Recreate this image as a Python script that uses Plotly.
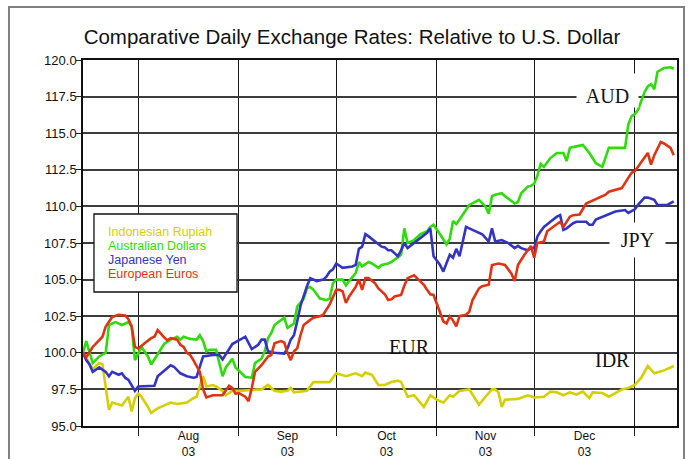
import plotly.graph_objects as go

# ---------------- data ----------------
idr_dates = ["2003-07-15","2003-07-18","2003-07-20","2003-07-21","2003-07-23","2003-07-24","2003-07-27","2003-07-29",
             "2003-07-30","2003-07-31","2003-08-01","2003-08-02","2003-08-04","2003-08-05","2003-08-07","2003-08-08",
             "2003-08-11","2003-08-13","2003-08-16","2003-08-18","2003-08-19","2003-08-20","2003-08-21","2003-08-22",
             "2003-08-24","2003-08-25","2003-08-27","2003-08-28","2003-08-30","2003-09-01","2003-09-05","2003-09-08",
             "2003-09-10","2003-09-12","2003-09-14","2003-09-16","2003-09-17","2003-09-18","2003-09-22","2003-09-24",
             "2003-09-26","2003-09-29","2003-10-01","2003-10-04","2003-10-07","2003-10-09","2003-10-10","2003-10-12",
             "2003-10-14","2003-10-16","2003-10-18","2003-10-20","2003-10-21","2003-10-23","2003-10-25","2003-10-28",
             "2003-10-30","2003-11-01","2003-11-03","2003-11-05","2003-11-06","2003-11-08","2003-11-11","2003-11-14",
             "2003-11-16","2003-11-18","2003-11-19","2003-11-20","2003-11-21","2003-11-22","2003-11-26","2003-11-29",
             "2003-12-01","2003-12-04","2003-12-06","2003-12-08","2003-12-10","2003-12-12","2003-12-14","2003-12-16",
             "2003-12-18","2003-12-19","2003-12-22","2003-12-24","2003-12-26","2003-12-28","2003-12-30","2004-01-01",
             "2004-01-03","2004-01-05","2004-01-07","2004-01-10","2004-01-13"]
idr_values = [100.0, 98.9, 99.3, 99.2, 96.1, 96.6, 96.4, 97.0,
              96.0, 96.9, 97.2, 97.0, 96.3, 95.9, 96.2, 96.3,
              96.6, 96.5, 96.6, 96.9, 97.0, 97.7, 98.4, 97.7,
              97.8, 97.7, 97.4, 97.1, 97.4, 97.4, 97.45, 97.5,
              97.8, 97.4, 97.35, 97.4, 97.6, 97.3, 97.4, 98.0,
              98.0, 98.0, 98.6, 98.4, 98.6, 98.4, 98.65, 98.5,
              97.8, 97.8, 98.0, 98.1, 98.0, 97.0, 97.1, 96.3,
              97.1, 96.8, 96.6, 97.1, 97.0, 97.4, 97.5, 96.45,
              97.0, 97.5, 97.5, 97.3, 96.3, 96.8, 96.85, 97.1,
              96.95, 97.0, 97.35, 97.3, 97.1, 97.3, 97.15, 97.35,
              96.9, 97.3, 97.25, 97.0, 97.25, 97.5, 97.6, 97.8,
              98.3, 99.1, 98.6, 98.8, 99.1]

aud_dates = ["2003-07-15","2003-07-16","2003-07-18","2003-07-20","2003-07-22","2003-07-23","2003-07-25","2003-07-27",
             "2003-07-29","2003-07-30","2003-07-31","2003-08-01","2003-08-02","2003-08-04","2003-08-05","2003-08-07",
             "2003-08-09","2003-08-11","2003-08-13","2003-08-14","2003-08-15","2003-08-17","2003-08-19","2003-08-20",
             "2003-08-21","2003-08-22","2003-08-23","2003-08-25","2003-08-26","2003-08-27","2003-08-28","2003-08-30",
             "2003-08-31","2003-09-01","2003-09-03","2003-09-05","2003-09-06","2003-09-08","2003-09-09","2003-09-10",
             "2003-09-11","2003-09-12","2003-09-14","2003-09-15","2003-09-16","2003-09-18","2003-09-19","2003-09-21",
             "2003-09-22","2003-09-23","2003-09-24","2003-09-26","2003-09-28","2003-09-29","2003-09-30","2003-10-01",
             "2003-10-03","2003-10-04","2003-10-05","2003-10-07","2003-10-08","2003-10-09","2003-10-11","2003-10-12",
             "2003-10-14","2003-10-15","2003-10-17","2003-10-18","2003-10-21","2003-10-22","2003-10-23","2003-10-25",
             "2003-10-27","2003-10-29","2003-10-30","2003-10-31","2003-11-02","2003-11-04","2003-11-05","2003-11-06",
             "2003-11-07","2003-11-08","2003-11-11","2003-11-12","2003-11-14","2003-11-16","2003-11-17","2003-11-18",
             "2003-11-19","2003-11-21","2003-11-22","2003-11-25","2003-11-26","2003-11-27","2003-11-29","2003-11-30",
             "2003-12-01","2003-12-02","2003-12-03","2003-12-04","2003-12-06","2003-12-08","2003-12-10","2003-12-11",
             "2003-12-12","2003-12-14","2003-12-16","2003-12-18","2003-12-20","2003-12-22","2003-12-24","2003-12-26",
             "2003-12-29","2003-12-30","2003-12-31","2004-01-01","2004-01-02","2004-01-03","2004-01-04","2004-01-05",
             "2004-01-06","2004-01-07","2004-01-08","2004-01-10","2004-01-12","2004-01-13"]
aud_values = [100.0, 100.8, 99.3, 99.75, 100.0, 101.9, 102.1, 101.9,
              102.1, 101.8, 99.5, 100.0, 100.4, 99.75, 99.2, 99.9,
              100.6, 100.9, 101.1, 100.9, 101.1, 100.95, 100.9, 101.2,
              100.8, 100.1, 100.2, 100.2, 99.3, 98.4, 99.0, 99.6,
              99.0, 98.8, 98.35, 98.3, 99.3, 99.6, 100.1, 101.0,
              101.35, 101.9, 102.2, 102.4, 101.7, 102.0, 103.15, 103.7,
              104.4, 104.5, 104.3, 103.7, 103.6, 103.7, 104.75, 105.0,
              105.0, 104.6, 104.9, 105.45, 106.2, 105.9, 106.2, 106.1,
              105.8, 106.0, 106.1, 106.2, 106.7, 108.5, 107.5, 107.7,
              108.1, 108.3, 108.6, 108.75, 108.1, 107.4, 107.8, 109.0,
              108.8, 109.1, 110.1, 110.2, 110.45, 110.0, 109.5, 110.7,
              110.8, 110.9, 110.7, 110.2, 110.3, 110.9, 111.35, 111.4,
              111.55, 112.1, 112.9, 112.7, 113.3, 113.65, 113.65, 113.1,
              114.0, 114.1, 114.2, 113.65, 112.95, 112.7, 114.0, 114.0,
              114.0, 115.6, 116.15, 116.3, 116.6, 117.2, 117.8, 118.2,
              118.35, 118.0, 119.2, 119.45, 119.5, 119.4]

jpy_dates = ["2003-07-15","2003-07-16","2003-07-17","2003-07-18","2003-07-19","2003-07-20","2003-07-22","2003-07-23",
             "2003-07-24","2003-07-26","2003-07-27","2003-07-28","2003-07-29","2003-07-30","2003-07-31","2003-08-01",
             "2003-08-04","2003-08-06","2003-08-07","2003-08-08","2003-08-11","2003-08-12","2003-08-13","2003-08-14",
             "2003-08-16","2003-08-18","2003-08-19","2003-08-20","2003-08-21","2003-08-24","2003-08-26","2003-08-27",
             "2003-08-29","2003-08-30","2003-09-01","2003-09-03","2003-09-05","2003-09-06","2003-09-07","2003-09-08",
             "2003-09-09","2003-09-10","2003-09-12","2003-09-15","2003-09-16","2003-09-17","2003-09-18","2003-09-19",
             "2003-09-20","2003-09-22","2003-09-23","2003-09-25","2003-09-27","2003-09-28","2003-09-29","2003-09-30",
             "2003-10-01","2003-10-03","2003-10-06","2003-10-07","2003-10-08","2003-10-09","2003-10-10","2003-10-11",
             "2003-10-13","2003-10-14","2003-10-15","2003-10-16","2003-10-17","2003-10-18","2003-10-20","2003-10-21",
             "2003-10-22","2003-10-23","2003-10-25","2003-10-27","2003-10-29","2003-10-30","2003-10-31","2003-11-01",
             "2003-11-02","2003-11-03","2003-11-05","2003-11-06","2003-11-07","2003-11-08","2003-11-09","2003-11-10",
             "2003-11-11","2003-11-13","2003-11-15","2003-11-17","2003-11-18","2003-11-19","2003-11-21","2003-11-23",
             "2003-11-25","2003-11-26","2003-11-27","2003-11-29","2003-11-30","2003-12-01","2003-12-02","2003-12-03",
             "2003-12-04","2003-12-06","2003-12-08","2003-12-09","2003-12-10","2003-12-11","2003-12-13","2003-12-14",
             "2003-12-17","2003-12-18","2003-12-19","2003-12-20","2003-12-23","2003-12-26","2003-12-29","2003-12-30",
             "2004-01-01","2004-01-02","2004-01-04","2004-01-05","2004-01-07","2004-01-08","2004-01-11","2004-01-13"]
jpy_values = [100.0, 99.5, 99.2, 98.7, 98.85, 99.0, 98.7, 98.4,
              98.7, 98.5, 98.6, 98.3, 98.15, 97.8, 97.4, 97.7,
              97.75, 97.75, 98.4, 98.6, 99.15, 99.05, 98.8, 98.6,
              98.4, 98.3, 98.35, 99.0, 99.75, 99.85, 99.85, 99.55,
              100.2, 100.6, 100.85, 101.1, 100.25, 100.4, 100.55, 100.9,
              100.9, 100.1, 100.0, 99.95, 100.3, 100.9, 101.2, 102.15,
              103.2, 104.55, 105.1, 104.9, 105.0, 105.2, 105.55, 105.7,
              106.1, 105.8, 105.9, 106.0, 107.1, 107.25, 108.1, 107.95,
              107.6, 107.4, 107.25, 107.2, 107.0, 107.0, 106.6, 107.0,
              107.5, 107.15, 107.5, 107.85, 108.2, 108.5, 106.6, 106.3,
              106.0, 105.55, 106.7, 106.5, 107.1, 106.6, 107.6, 108.6,
              108.5, 108.3, 108.1, 107.6, 108.5, 107.6, 107.7, 107.5,
              107.15, 107.3, 107.15, 107.0, 107.15, 107.15, 107.95, 108.3,
              108.6, 108.95, 109.3, 109.4, 108.4, 108.5, 108.85, 108.95,
              108.95, 108.75, 108.75, 109.1, 109.4, 109.65, 109.75, 109.55,
              109.8, 110.1, 110.6, 110.6, 110.45, 110.1, 110.1, 110.35]

eur_dates = ["2003-07-15","2003-07-16","2003-07-18","2003-07-21","2003-07-22","2003-07-23","2003-07-24","2003-07-26",
             "2003-07-28","2003-07-29","2003-07-30","2003-07-31","2003-08-01","2003-08-03","2003-08-05","2003-08-06",
             "2003-08-07","2003-08-09","2003-08-10","2003-08-11","2003-08-13","2003-08-14","2003-08-15","2003-08-16",
             "2003-08-17","2003-08-18","2003-08-19","2003-08-20","2003-08-21","2003-08-22","2003-08-24","2003-08-26",
             "2003-08-27","2003-08-29","2003-08-30","2003-08-31","2003-09-01","2003-09-03","2003-09-04","2003-09-05",
             "2003-09-06","2003-09-08","2003-09-10","2003-09-11","2003-09-12","2003-09-14","2003-09-15","2003-09-16",
             "2003-09-17","2003-09-18","2003-09-19","2003-09-20","2003-09-21","2003-09-23","2003-09-24","2003-09-26",
             "2003-09-27","2003-09-29","2003-09-30","2003-10-01","2003-10-02","2003-10-03","2003-10-04","2003-10-05",
             "2003-10-07","2003-10-08","2003-10-09","2003-10-10","2003-10-11","2003-10-13","2003-10-14","2003-10-16",
             "2003-10-17","2003-10-18","2003-10-19","2003-10-21","2003-10-22","2003-10-23","2003-10-25","2003-10-26",
             "2003-10-28","2003-10-29","2003-10-30","2003-10-31","2003-11-01","2003-11-02","2003-11-03","2003-11-04",
             "2003-11-05","2003-11-06","2003-11-07","2003-11-08","2003-11-10","2003-11-11","2003-11-12","2003-11-14",
             "2003-11-15","2003-11-17","2003-11-18","2003-11-20","2003-11-22","2003-11-24","2003-11-25","2003-11-26",
             "2003-11-28","2003-11-30","2003-12-01","2003-12-02","2003-12-04","2003-12-05","2003-12-07","2003-12-09",
             "2003-12-10","2003-12-12","2003-12-13","2003-12-15","2003-12-17","2003-12-19","2003-12-21","2003-12-23",
             "2003-12-24","2003-12-26","2003-12-28","2003-12-30","2003-12-31","2004-01-01","2004-01-03","2004-01-05",
             "2004-01-06","2004-01-07","2004-01-09","2004-01-10","2004-01-12","2004-01-13"]
eur_values = [100.0, 99.7, 100.4, 101.1, 101.8, 102.15, 102.45, 102.6,
              102.55, 102.3, 101.8, 100.4, 100.3, 100.65, 101.0, 101.1,
              101.55, 101.05, 100.85, 101.0, 100.9, 100.55, 100.4, 100.0,
              99.85, 99.5, 99.05, 98.7, 97.5, 96.95, 97.1, 97.1,
              97.1, 97.75, 97.6, 97.2, 97.25, 97.0, 96.7, 97.6,
              98.7, 99.15, 99.75, 99.85, 100.65, 100.8, 100.7, 100.0,
              99.5, 100.1, 100.3, 101.2, 101.9, 102.25, 102.4, 102.5,
              102.6, 103.3, 103.75, 104.3, 104.3, 104.2, 103.4, 103.85,
              104.5, 105.0, 104.3, 105.1, 105.1, 104.75, 104.4, 104.0,
              103.6, 103.65, 103.85, 103.95, 104.6, 105.1, 105.3, 105.1,
              104.65, 104.3, 104.0, 103.95, 103.3, 102.7, 102.15, 102.0,
              102.5, 102.2, 101.8, 102.5, 102.6, 102.8, 103.6, 104.4,
              104.55, 104.65, 106.0, 106.1, 106.0, 105.4, 104.9, 106.0,
              106.7, 107.3, 106.5, 107.5, 107.6, 108.3, 108.6, 108.95,
              108.6, 109.3, 109.4, 109.45, 110.2, 110.4, 110.55, 110.8,
              111.0, 111.15, 111.25, 111.95, 112.3, 112.4, 113.0, 113.65,
              112.85, 113.5, 114.4, 114.3, 114.0, 113.5]

series_names = ["Indonesian Rupiah", "Australian Dollars", "Japanese Yen", "European Euros"]
series_codes = ["IDR", "AUD", "JPY", "EUR"]
series_colors = ["#d6cf00", "#2edc0a", "#3434c4", "#de3414"]

month_mids = ["2003-08-16 12:00", "2003-09-16 00:00", "2003-10-16 12:00", "2003-11-16 00:00", "2003-12-16 12:00"]
month_labels = ["Aug<br>03", "Sep<br>03", "Oct<br>03", "Nov<br>03", "Dec<br>03"]
y_ticks = [95.0, 97.5, 100.0, 102.5, 105.0, 107.5, 110.0, 112.5, 115.0, 117.5, 120.0]

title_text = "Comparative Daily Exchange Rates: Relative to U.S. Dollar"

# ---------------- figure ----------------
all_dates = [idr_dates, aud_dates, jpy_dates, eur_dates]
all_values = [idr_values, aud_values, jpy_values, eur_values]

fig = go.Figure()
for name, d, v, c in zip(series_names, all_dates, all_values, series_colors):
    fig.add_trace(go.Scatter(x=d, y=v, mode="lines", name=name,
                             line=dict(color=c, width=2.6), showlegend=False))

SANS = "Liberation Sans, Arial, Helvetica, sans-serif"
SERIF = "Liberation Serif, Times New Roman, serif"

fig.update_layout(
    width=688, height=459, autosize=False,
    margin=dict(l=83, r=11, t=60, b=33, autoexpand=False),
    paper_bgcolor="white", plot_bgcolor="white",
    font=dict(family=SANS, color="#111111"),
    title=dict(text=title_text, x=0.5116, xref="container", xanchor="center",
               y=0.9194, yref="container", yanchor="middle",
               font=dict(family=SANS, size=20.5, color="#111111")),
    xaxis=dict(
        type="date", range=["2003-07-15", "2004-01-14"], automargin=False,
        tickmode="array", tickvals=month_mids, ticktext=month_labels,
        ticks="", showgrid=False, zeroline=False,
        showline=True, linecolor="#111111", linewidth=1.5, mirror=True,
        tickfont=dict(size=12, color="#111111"), ticklabelstandoff=-2,
        minor=dict(tick0="2003-08-01", dtick="M1", showgrid=True,
                   gridcolor="#1a1a1a", gridwidth=1.3,
                   ticks="outside", ticklen=8, tickcolor="#222222", tickwidth=1.3),
    ),
    yaxis=dict(
        range=[95, 120], tickmode="array", tickvals=y_ticks, automargin=False,
        tickformat=".1f", ticks="outside", ticklen=5, tickcolor="#222222", tickwidth=1.3,
        showgrid=True, gridcolor="#3c3c3c", gridwidth=1.5, zeroline=False,
        showline=True, linecolor="#111111", linewidth=1.5, mirror=True,
        tickfont=dict(size=13, color="#111111"), ticklabelstandoff=-3,
    ),
)

# outer frame around the whole picture
fig.add_shape(type="rect", xref="paper", yref="paper",
              x0=-0.1246, x1=1.0118, y0=-0.134, y1=1.1448,
              line=dict(color="#808080", width=2), fillcolor="rgba(0,0,0,0)", layer="below")

# legend box
fig.add_shape(type="rect", xref="paper", yref="paper",
              x0=0.0185, x1=0.2593, y0=0.3661, y1=0.5792,
              line=dict(color="#111111", width=1.3), fillcolor="white", layer="above")
legend_y = [0.5301, 0.4918, 0.4536, 0.4153]
for name, c, yy in zip(series_names, series_colors, legend_y):
    fig.add_annotation(text=name, xref="paper", yref="paper", x=0.0387, y=yy,
                       xanchor="left", yanchor="middle", showarrow=False,
                       font=dict(family=SANS, size=12.5, color=c))

# currency labels (AUD and JPY sit on white patches that interrupt the grid)
label_style = {
    "AUD": dict(x=0.8830, y=0.9167, bgcolor="white", width=61, height=33, valign="bottom"),
    "JPY": dict(x=0.9335, y=0.5082, bgcolor="white", width=55, height=34, valign="middle"),
    "EUR": dict(x=0.5497, y=0.2158),
    "IDR": dict(x=0.8906, y=0.1803),
}
for code in series_codes:
    fig.add_annotation(text=code, xref="paper", yref="paper",
                       xanchor="center", yanchor="middle", showarrow=False, borderpad=0,
                       font=dict(family=SERIF, size=20, color="#111111"),
                       **label_style[code])

fig.write_html("out.html", config={"displayModeBar": False},
               post_script="document.body.style.margin='0';document.body.style.overflow='hidden';")
